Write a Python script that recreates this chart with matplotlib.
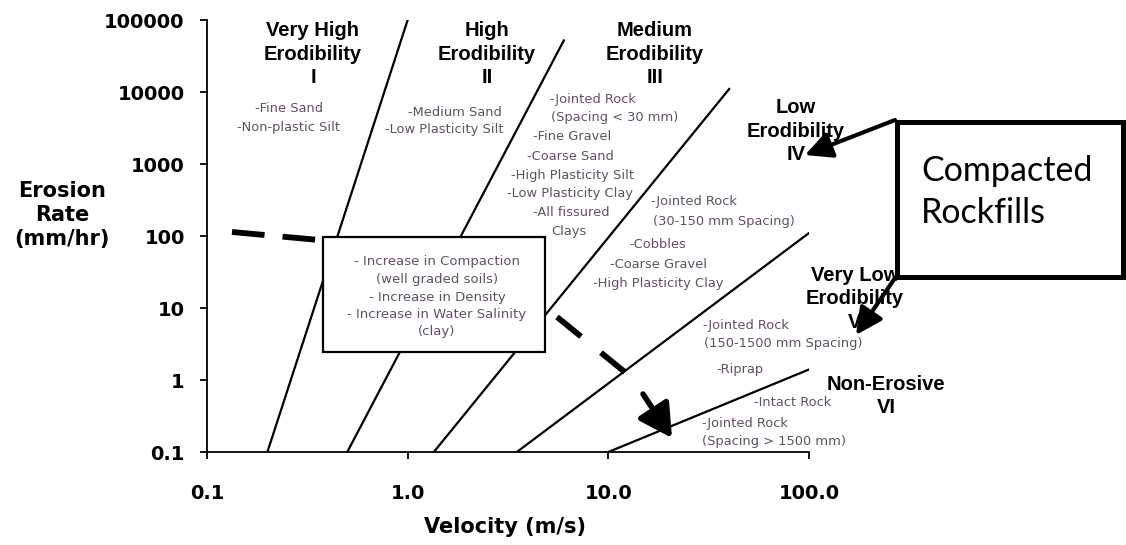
import matplotlib
matplotlib.use('Agg')
import matplotlib.pyplot as plt
from matplotlib.lines import Line2D
from matplotlib.patches import Rectangle

W, H = 1126, 545

# boundaries between the erodibility categories (velocity m/s -> erosion rate mm/hr)
v_start = [0.2, 0.5, 1.35, 3.5, 10.0]
v_end = [1.0, 6.0, 40.0, 100.0, 100.0]
e_start = [0.1, 0.1, 0.1, 0.1, 0.1]
e_end = [100000, 52000, 11000, 110, 1.4]

x_ticks = [0.1, 1, 10, 100]
x_labels = ['0.1', '1.0', '10.0', '100.0']
y_ticks = [0.1, 1, 10, 100, 1000, 10000, 100000]
y_labels = ['0.1', '1', '10', '100', '1000', '10000', '100000']

categories = ['Very High\nErodibility\nI', 'High\nErodibility\nII',
              'Medium\nErodibility\nIII', 'Low\nErodibility\nIV',
              'Very Low\nErodibility\nV', 'Non-Erosive\nVI']

materials = ['-Fine Sand', '-Non-plastic Silt',
             '-Medium Sand', '-Low Plasticity Silt',
             '-Jointed Rock', '(Spacing < 30 mm)', '-Fine Gravel', '-Coarse Sand',
             '-High Plasticity Silt', '-Low Plasticity Clay', '-All fissured', 'Clays',
             '-Jointed Rock', '(30-150 mm Spacing)', '-Cobbles', '-Coarse Gravel',
             '-High Plasticity Clay',
             '-Jointed Rock', '(150-1500 mm Spacing)', '-Riprap',
             '-Intact Rock', '-Jointed Rock', '(Spacing > 1500 mm)']

effects = ['- Increase in Compaction', '(well graded soils)', '- Increase in Density',
           '- Increase in Water Salinity', '(clay)']

# positions of the annotations, in pixels from the top left of the figure
cat_xy = [(313, 54), (487, 54), (655, 54), (796, 131), (855, 299), (886, 396)]
mat_xy = [(289, 108), (289, 128),
          (455, 112), (444, 130),
          (593, 99), (615, 118), (572, 137), (570, 156),
          (573, 175), (570, 193), (571, 212), (569, 232),
          (694, 202), (724, 222), (658, 244), (658, 264),
          (658, 283),
          (746, 325), (783, 344), (740, 369),
          (793, 403), (745, 423), (774, 442)]

GRAY = '#5f5262'


def fx(x):
    return x / W


def fy(y):
    return 1 - y / H


fig = plt.figure(figsize=(W / 100, H / 100), dpi=100)
fig.patch.set_facecolor('white')
ax = fig.add_axes([fx(207), fy(452), (809 - 207) / W, (452 - 20) / H])

for i in range(len(v_start)):
    ax.plot([v_start[i], v_end[i]], [e_start[i], e_end[i]], color='black', lw=1.6)

ax.set_xscale('log')
ax.set_yscale('log')
ax.set_xlim(0.1, 100)
ax.set_ylim(0.1, 100000)
ax.set_xticks(x_ticks)
ax.set_xticklabels(x_labels)
ax.set_yticks(y_ticks)
ax.set_yticklabels(y_labels)
ax.minorticks_off()
for s in ['top', 'right']:
    ax.spines[s].set_visible(False)
for s in ['left', 'bottom']:
    ax.spines[s].set_linewidth(1.3)
ax.tick_params(axis='both', direction='out', length=5, width=1.3)
ax.tick_params(axis='x', pad=18)
ax.tick_params(axis='y', pad=11)
for lab in ax.get_xticklabels() + ax.get_yticklabels():
    lab.set_fontfamily('DejaVu Sans')
    lab.set_fontweight('bold')
    lab.set_fontsize(14)

ax.set_xlabel('Velocity (m/s)', fontsize=15, fontweight='bold', family='DejaVu Sans',
              va='center')
ax.xaxis.set_label_coords((505 - 207) / 602, (452 - 527) / 432)
ax.set_ylabel('Erosion\nRate\n(mm/hr)', fontsize=15, fontweight='bold',
              family='DejaVu Sans', rotation=0, ha='center', va='center',
              linespacing=1.25)
ax.yaxis.set_label_coords((62 - 207) / 602, (452 - 215) / 432)

# category titles
for s, (x, y) in zip(categories, cat_xy):
    fig.text(fx(x), fy(y), s, ha='center', va='center', fontsize=14.5,
             fontweight='bold', family='Liberation Sans', linespacing=1.3, zorder=5)

# material lists
for s, (x, y) in zip(materials, mat_xy):
    fig.text(fx(x), fy(y), s, ha='center', va='center', fontsize=9.4,
             color=GRAY, family='DejaVu Sans', zorder=5)

# thick dashed trend line running behind the middle box
dash = dict(color='black', lw=4.2, solid_capstyle='butt',
            dash_capstyle='butt', transform=fig.transFigure, zorder=3)
fig.add_artist(Line2D([fx(232), fx(330)], [fy(232), fy(241)],
                      linestyle=(0, (5.6, 3.1)), **dash))
fig.add_artist(Line2D([fx(557), fx(626)], [fy(317), fy(373)],
                      linestyle=(0, (5.3, 4.4)), **dash))
ax.annotate('', xy=(672, H - 438), xycoords='figure pixels',
            xytext=(643, H - 394), textcoords='figure pixels',
            arrowprops=dict(arrowstyle='-|>,head_length=1.0,head_width=0.55',
                            color='black', lw=4, mutation_scale=20,
                            shrinkA=0, shrinkB=0), zorder=4)

# middle box
fig.add_artist(Rectangle((fx(323), fy(352)), (545 - 323) / W, (352 - 237) / H,
                         transform=fig.transFigure, facecolor='white',
                         edgecolor='black', lw=1.6, zorder=6))
fig.text(fx(437), fy(297), '\n'.join(effects), ha='center', va='center',
         fontsize=9.5, color=GRAY, family='DejaVu Sans', linespacing=1.45, zorder=7)

# compacted rockfills callout
fig.add_artist(Rectangle((fx(897), fy(277)), (1123 - 897) / W, (277 - 122) / H,
                         transform=fig.transFigure, facecolor='white',
                         edgecolor='black', lw=3.6, zorder=6))
fig.text(fx(921), fy(192), 'Compacted\nRockfills', ha='left', va='center',
         fontsize=24.5, family='Lato', linespacing=1.4, zorder=7)
arrow = dict(arrowstyle='-|>,head_length=0.9,head_width=0.45', color='black',
             lw=3, mutation_scale=18, shrinkA=0, shrinkB=0)
ax.annotate('', xy=(805, H - 155), xycoords='figure pixels',
            xytext=(895, H - 120), textcoords='figure pixels', arrowprops=arrow, zorder=8)
ax.annotate('', xy=(856, H - 335), xycoords='figure pixels',
            xytext=(895, H - 278), textcoords='figure pixels', arrowprops=arrow, zorder=8)

fig.savefig('out.png', dpi=100, facecolor='white')
